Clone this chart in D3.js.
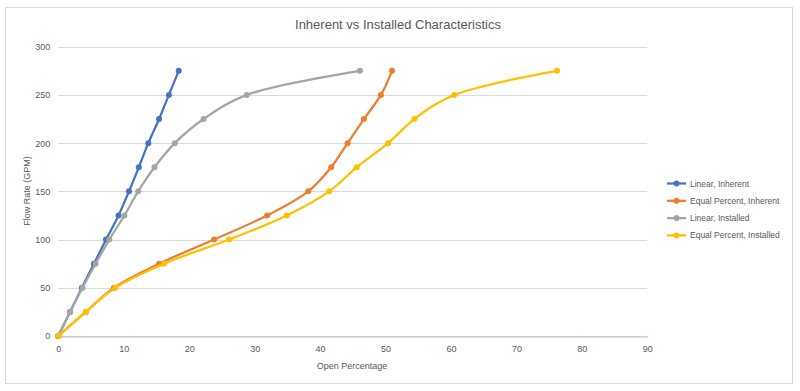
<!DOCTYPE html>
<html><head><meta charset="utf-8">
<script src="https://cdn.jsdelivr.net/npm/d3@7"></script>
<style>
html,body{margin:0;padding:0;background:#fff;}
svg{display:block;font-family:"Liberation Sans","Open Sans",sans-serif;}
</style></head>
<body>
<svg id="chart" width="800" height="391"></svg>
<script>
const flow = [0,25,50,75,100,125,150,175,200,225,250,275];
const linearInherent   = [0,1.8,3.6,5.45,7.3,9.2,10.8,12.3,13.75,15.4,16.9,18.4];
const equalInherent    = [0,4.2,8.5,15.4,23.8,31.9,38.2,41.7,44.2,46.7,49.3,51.0];
const linearInstalled  = [0,1.8,3.7,5.7,7.8,10.1,12.2,14.7,17.8,22.2,28.8,46.1];
const equalInstalled   = [0,4.2,8.7,16.15,26.1,34.9,41.4,45.6,50.4,54.4,60.5,76.2];
const seriesNames = ["Linear, Inherent","Equal Percent, Inherent","Linear, Installed","Equal Percent, Installed"];
const seriesColors = ["#4472C4","#ED7D31","#A5A5A5","#FFC000"];
const seriesX = [linearInherent, equalInherent, linearInstalled, equalInstalled];
const xTicks = [0,10,20,30,40,50,60,70,80,90];
const yTicks = [0,50,100,150,200,250,300];

const svg = d3.select("#chart");
svg.append("rect").attr("x",5.5).attr("y",7.5).attr("width",787).attr("height",376)
  .attr("fill","#fff").attr("stroke","#D9D9D9");

const x = d3.scaleLinear().domain([0,90]).range([58.3,647.3]);
const y = d3.scaleLinear().domain([0,300]).range([336,46.7]);

// gridlines
svg.append("g").selectAll("line").data(yTicks).join("line")
  .attr("x1",x(0)).attr("x2",x(90))
  .attr("y1",d=>Math.round(y(d))+0.5).attr("y2",d=>Math.round(y(d))+0.5)
  .attr("stroke","#D9D9D9").attr("stroke-width",1);

// axes
const xAxis = svg.append("g").attr("transform",`translate(0,${Math.round(y(0))+0.5})`)
  .call(d3.axisBottom(x).tickValues(xTicks).tickSize(0).tickPadding(9));
xAxis.select(".domain").attr("stroke","#BFBFBF");
xAxis.selectAll("text").attr("fill","#595959").attr("font-size","9px").attr("font-family","Liberation Sans, sans-serif");

const yAxis = svg.append("g").attr("transform",`translate(${x(0)},0)`)
  .call(d3.axisLeft(y).tickValues(yTicks).tickSize(0).tickPadding(8));
yAxis.select(".domain").remove();
yAxis.selectAll("text").attr("fill","#595959").attr("font-size","9px").attr("font-family","Liberation Sans, sans-serif");

// titles
svg.append("text").attr("x",398).attr("y",29).attr("text-anchor","middle")
  .attr("fill","#595959").attr("font-size","13px").text("Inherent vs Installed Characteristics");
svg.append("text").attr("x",352).attr("y",369).attr("text-anchor","middle")
  .attr("fill","#595959").attr("font-size","9px").text("Open Percentage");
svg.append("text").attr("transform","translate(30,191) rotate(-90)").attr("text-anchor","middle")
  .attr("fill","#595959").attr("font-size","9px").text("Flow Rate (GPM)");

const line = d3.line().x(d=>x(d[0])).y(d=>y(d[1])).curve(d3.curveCatmullRom.alpha(0.5));

const drawOrder = [0,1,2,3];
drawOrder.forEach(i=>{
  const pts = seriesX[i].map((v,j)=>[v,flow[j]]);
  const g = svg.append("g");
  g.append("path").attr("d",line(pts)).attr("fill","none")
    .attr("stroke",seriesColors[i]).attr("stroke-width",2.25).attr("stroke-linecap","round");
  g.selectAll("circle").data(pts).join("circle")
    .attr("cx",d=>x(d[0])).attr("cy",d=>y(d[1])).attr("r",3)
    .attr("fill",seriesColors[i]);
});

// legend
const legend = svg.append("g");
seriesNames.forEach((n,i)=>{
  const ly = 183.5 + i*17.3;
  legend.append("line").attr("x1",667).attr("x2",686).attr("y1",ly).attr("y2",ly)
    .attr("stroke",seriesColors[i]).attr("stroke-width",2.25);
  legend.append("circle").attr("cx",676.5).attr("cy",ly).attr("r",3).attr("fill",seriesColors[i]);
  legend.append("text").attr("x",690).attr("y",ly+3).attr("fill","#595959")
    .attr("font-size","8.5px").text(n);
});
</script>
</body></html>
